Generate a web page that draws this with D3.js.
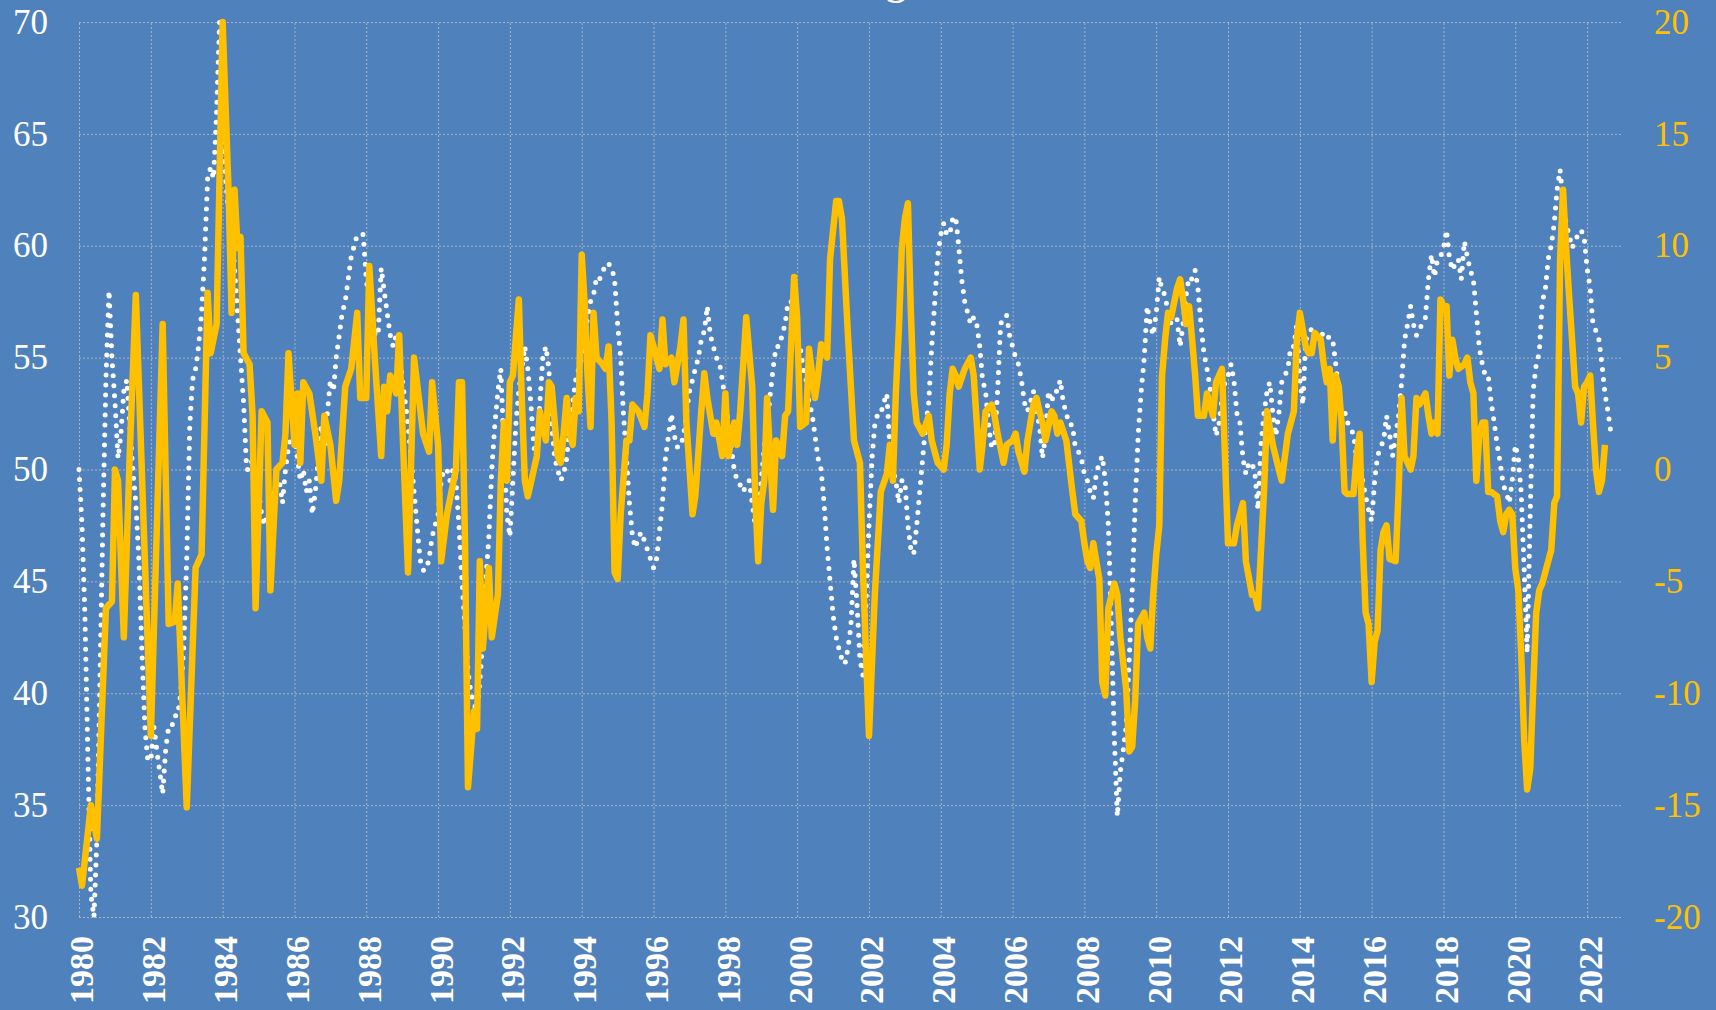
<!DOCTYPE html>
<html>
<head>
<meta charset="utf-8">
<script src="https://cdn.jsdelivr.net/npm/d3@7"></script>
<style>
  html, body { margin: 0; padding: 0; background: #4f81bd; overflow: hidden; }
  svg { display: block; }
</style>
</head>
<body>
<div id="chart"></div>
<script>
// axis ticks
let yearTicks = [1980, 1982, 1984, 1986, 1988, 1990, 1992, 1994, 1996, 1998, 2000,
  2002, 2004, 2006, 2008, 2010, 2012, 2014, 2016, 2018, 2020, 2022];
let leftTicks = [30, 35, 40, 45, 50, 55, 60, 65, 70];
let rightTicks = [-20, -15, -10, -5, 0, 5, 10, 15, 20];

// white dotted series (left axis), one value per month from Jan 1980
let pmiStart = "1980-01";
let pmiValues = [
  50.0, 47.5, 43.5, 37.0, 31.0, 30.0, 33.5, 40.5, 48.0, 54.0, 58.0, 55.0,
  53.0, 50.5, 51.5, 53.5, 54.0, 52.0, 50.0, 48.5, 46.0, 42.0, 38.5, 37.0,
  37.0, 38.5, 37.5, 36.5, 35.5, 37.5, 38.5, 38.5, 39.0, 39.0, 40.0, 42.0,
  46.0, 52.0, 54.0, 54.5, 55.5, 57.0, 59.5, 63.0, 63.5, 63.0, 66.0, 70.0,
  65.0, 63.0, 61.5, 61.0, 59.0, 57.0, 55.0, 53.0, 50.0, 50.0, 50.5, 49.0,
  49.0, 48.0, 47.5, 48.0, 47.5, 48.0, 49.5, 49.5, 48.5, 50.0, 51.0, 51.5,
  51.5, 50.5, 49.5, 50.0, 49.0, 49.5, 48.0, 49.0, 50.5, 52.0, 51.0, 52.5,
  54.0, 53.5, 55.0, 56.0, 57.0, 57.5, 58.5, 59.5, 60.0, 60.5, 60.5, 60.5,
  58.5, 57.5, 57.0, 56.0, 56.0, 59.0, 58.0, 57.0, 56.0, 55.5, 56.0, 55.5,
  54.0, 53.0, 52.0, 50.5, 49.0, 47.5, 46.0, 45.5, 45.5, 46.0, 47.0, 47.5,
  48.0, 49.5, 50.0, 50.0, 49.5, 50.0, 49.5, 47.5, 45.0, 43.0, 41.0, 40.0,
  39.5, 39.2, 40.5, 42.5, 45.0, 47.0, 50.0, 52.0, 53.5, 54.5, 51.0, 48.0,
  47.0, 49.5, 52.0, 53.5, 54.5, 55.5, 54.5, 53.0, 51.0, 50.5, 53.0, 55.0,
  55.5, 54.5, 52.0, 50.5, 50.0, 49.5, 49.8, 50.5, 52.0, 53.0, 54.0, 54.5,
  55.0, 56.0, 56.8, 57.5, 57.8, 58.6, 58.5, 58.8, 59.2, 59.2, 59.0, 58.5,
  56.5, 55.0, 52.5, 50.5, 48.5, 47.0, 46.5, 47.0, 47.2, 46.8, 46.4, 46.0,
  45.6, 46.0, 47.2, 48.5, 50.5, 51.5, 52.5, 51.5, 51.0, 51.0, 51.5, 52.5,
  53.5, 54.0, 54.5, 55.0, 55.8, 56.2, 57.3, 56.0, 55.5, 55.0, 54.8, 54.0,
  53.0, 52.0, 51.0, 50.0, 49.5, 49.3, 49.0, 49.3, 49.5, 48.5, 47.5, 47.5,
  49.5, 51.0, 52.0, 53.3, 54.5, 55.5, 55.5, 56.0, 56.5, 57.5, 57.5, 57.0,
  56.0, 55.5, 54.5, 54.0, 53.0, 52.5, 51.5, 50.5, 50.0, 48.5, 46.5, 45.0,
  43.5, 42.5, 42.0, 41.5, 41.3, 42.0, 43.0, 46.0, 44.0, 41.5, 40.8, 44.0,
  47.5, 50.5, 52.0, 52.5, 52.5, 53.0, 53.4, 51.0, 50.0, 49.5, 48.5, 49.5,
  49.5, 47.5, 46.5, 46.2, 47.5, 49.0, 50.5, 52.0, 53.0, 55.5, 57.5, 59.5,
  60.5, 61.0, 60.5, 60.5, 61.2, 61.3, 60.0, 58.5, 57.5, 57.0, 56.5, 56.8,
  56.5, 55.5, 54.0, 53.5, 52.0, 51.0, 51.0, 53.5, 56.5, 56.8, 56.9, 56.0,
  55.5, 55.0, 54.7, 54.0, 53.0, 52.6, 53.0, 53.5, 52.5, 52.0, 50.5, 51.5,
  53.5, 53.0, 53.5, 53.5, 54.0, 53.0, 52.5, 52.0, 52.0, 51.0, 50.8, 50.5,
  49.8, 49.5, 49.0, 48.7, 49.8, 50.3, 50.6, 49.5, 47.5, 43.0, 38.0, 34.5,
  36.5, 37.5, 38.5, 41.5, 44.5, 48.5, 51.5, 53.5, 55.0, 57.3, 56.5, 56.0,
  57.0, 58.6, 58.0, 57.8, 57.0, 56.5, 56.5, 56.7, 55.5, 56.5, 57.8, 58.6,
  58.5, 58.9, 58.1, 56.5, 55.2, 54.5, 53.7, 52.6, 51.5, 52.0, 53.2, 53.9,
  54.2, 54.7, 54.0, 52.5, 52.1, 50.5, 49.8, 50.3, 50.3, 49.8, 48.2, 51.1,
  52.5, 53.5, 53.9, 52.5, 51.5, 52.5, 53.9, 54.2, 54.5, 55.5, 55.5, 56.5,
  54.0, 52.9, 55.8, 56.0, 56.3, 56.0, 56.2, 56.1, 56.0, 56.1, 55.8, 55.8,
  54.7, 53.4, 52.4, 52.6, 52.1, 51.8, 51.6, 50.5, 50.3, 49.5, 48.8, 48.2,
  47.7, 49.5, 50.6, 51.0, 51.3, 52.4, 51.6, 50.6, 51.5, 52.4, 53.9, 55.8,
  56.5, 57.3, 56.5, 56.0, 56.3, 56.5, 56.8, 58.5, 59.6, 58.6, 59.4, 59.5,
  59.9, 60.7, 59.5, 58.9, 59.2, 59.4, 58.5, 60.2, 59.5, 58.9, 58.5, 57.0,
  55.4, 54.7, 54.2, 54.2, 53.0, 52.1, 51.1, 50.3, 49.3, 49.0, 48.5, 49.5,
  51.1, 50.5, 49.0, 45.5, 41.8, 48.0, 53.5, 54.7, 55.2, 57.5, 58.0, 59.4,
  60.0, 61.0, 62.5, 63.4, 62.0, 61.0, 60.5, 59.9, 60.2, 60.5, 60.7, 60.4,
  59.0, 58.1, 56.5, 56.2, 55.8, 54.7, 53.4, 52.6, 51.6
];

// orange series (right axis), read at its turning points
let growthMonths = [
  "1980-01", "1980-02", "1980-05", "1980-06", "1980-07", "1980-10", "1980-12",
  "1981-01", "1981-02", "1981-04", "1981-06", "1981-08",
  "1982-01", "1982-05", "1982-07", "1982-09", "1982-10",
  "1983-01", "1983-04", "1983-06", "1983-08", "1983-09", "1983-11",
  "1984-01", "1984-03", "1984-04", "1984-05", "1984-06", "1984-07", "1984-08", "1984-10", "1984-11", "1984-12",
  "1985-02", "1985-04", "1985-05", "1985-07", "1985-09", "1985-10", "1985-11",
  "1986-01", "1986-02", "1986-03", "1986-04", "1986-06", "1986-08", "1986-10", "1986-11",
  "1987-01", "1987-03", "1987-04", "1987-06", "1987-08", "1987-10", "1987-11",
  "1988-01", "1988-02", "1988-04", "1988-06", "1988-07", "1988-08", "1988-09", "1988-11", "1988-12",
  "1989-01", "1989-03", "1989-05", "1989-08", "1989-10", "1989-11",
  "1990-01", "1990-02", "1990-04", "1990-07", "1990-08", "1990-09", "1990-10", "1990-11",
  "1991-01", "1991-02", "1991-03", "1991-04", "1991-06", "1991-07", "1991-09", "1991-10", "1991-11", "1991-12",
  "1992-01", "1992-02", "1992-04", "1992-05", "1992-06", "1992-07", "1992-09", "1992-10", "1992-11",
  "1993-01", "1993-02", "1993-03", "1993-05", "1993-06", "1993-07", "1993-08", "1993-09", "1993-10", "1993-11", "1993-12",
  "1994-01", "1994-02", "1994-03", "1994-04", "1994-05", "1994-06", "1994-08", "1994-09", "1994-10", "1994-11", "1994-12",
  "1995-01", "1995-02", "1995-04", "1995-05", "1995-06", "1995-08", "1995-10", "1995-11", "1995-12",
  "1996-01", "1996-03", "1996-04", "1996-05", "1996-07", "1996-08", "1996-10", "1996-11", "1996-12",
  "1997-02", "1997-03", "1997-05", "1997-06", "1997-07", "1997-09", "1997-10", "1997-12",
  "1998-01", "1998-02", "1998-04", "1998-05", "1998-06", "1998-08", "1998-10", "1998-11", "1998-12",
  "1999-01", "1999-02", "1999-03", "1999-04", "1999-05", "1999-06", "1999-08", "1999-09", "1999-10", "1999-12",
  "2000-01", "2000-02", "2000-04", "2000-05", "2000-07", "2000-08", "2000-09", "2000-11", "2000-12",
  "2001-02", "2001-03", "2001-04", "2001-06", "2001-07", "2001-08", "2001-10", "2001-11",
  "2002-01", "2002-03", "2002-05", "2002-07", "2002-08", "2002-09", "2002-10", "2002-11", "2002-12",
  "2003-01", "2003-02", "2003-03", "2003-04", "2003-05", "2003-07", "2003-09", "2003-10", "2003-12",
  "2004-02", "2004-03", "2004-04", "2004-05", "2004-06", "2004-07", "2004-09", "2004-11", "2004-12",
  "2005-01", "2005-02", "2005-03", "2005-04", "2005-06", "2005-07", "2005-08", "2005-10", "2005-11",
  "2006-01", "2006-02", "2006-03", "2006-05", "2006-06", "2006-08", "2006-09", "2006-10", "2006-11", "2006-12",
  "2007-02", "2007-03", "2007-04", "2007-05", "2007-07", "2007-09", "2007-10", "2007-12",
  "2008-01", "2008-02", "2008-03", "2008-04", "2008-06", "2008-07", "2008-08", "2008-09", "2008-11", "2008-12",
  "2009-01", "2009-03", "2009-04", "2009-05", "2009-06", "2009-07", "2009-09", "2009-10", "2009-11", "2009-12",
  "2010-01", "2010-02", "2010-03", "2010-04", "2010-05", "2010-06", "2010-08", "2010-09", "2010-10", "2010-11", "2010-12",
  "2011-01", "2011-02", "2011-03", "2011-05", "2011-06", "2011-08", "2011-09", "2011-11", "2011-12",
  "2012-01", "2012-03", "2012-04", "2012-06", "2012-07", "2012-09", "2012-10", "2012-11",
  "2013-01", "2013-02", "2013-04", "2013-06", "2013-07", "2013-09", "2013-11", "2013-12",
  "2014-01", "2014-03", "2014-04", "2014-05", "2014-06", "2014-08", "2014-09", "2014-10", "2014-11", "2014-12",
  "2015-01", "2015-02", "2015-03", "2015-04", "2015-05", "2015-07", "2015-08", "2015-09", "2015-10", "2015-11", "2015-12",
  "2016-01", "2016-02", "2016-03", "2016-04", "2016-05", "2016-06", "2016-07", "2016-09", "2016-10", "2016-11", "2016-12",
  "2017-02", "2017-03", "2017-04", "2017-05", "2017-07", "2017-08", "2017-09", "2017-10", "2017-11", "2017-12",
  "2018-01", "2018-02", "2018-03", "2018-04", "2018-05", "2018-06", "2018-08", "2018-09", "2018-10", "2018-11", "2018-12",
  "2019-01", "2019-02", "2019-03", "2019-04", "2019-05", "2019-07", "2019-08", "2019-09", "2019-10", "2019-11", "2019-12",
  "2020-01", "2020-02", "2020-03", "2020-04", "2020-05", "2020-06", "2020-07", "2020-08", "2020-09", "2020-10", "2020-11", "2020-12",
  "2021-01", "2021-02", "2021-03", "2021-04", "2021-05", "2021-06", "2021-07", "2021-08", "2021-09", "2021-10", "2021-11", "2021-12",
  "2022-01", "2022-02", "2022-03", "2022-04", "2022-05", "2022-06", "2022-07"
];
let growthValues = [
  -17.8, -18.6, -15.0, -15.8, -16.5, -6.2, -5.9,
  0.0, -0.5, -7.5, 0.8, 7.8,
  -11.9, 6.5, -6.9, -6.8, -5.1,
  -15.1, -4.4, -3.8, 7.9, 5.2, 6.5,
  20.0, 12.5, 7.0, 12.5, 9.9, 10.4, 5.2, 4.7, 2.4, -6.2,
  2.6, 2.1, -5.4, 0.0, 0.3, 1.6, 5.2,
  1.1, 3.4, 0.3, 3.9, 3.4, 1.6, -0.5, 2.4,
  1.1, -1.4, -0.5, 3.7, 4.5, 7.0, 3.2,
  3.2, 9.1, 4.7, 0.6, 3.7, 2.6, 4.2, 3.4, 6.0,
  2.1, -4.6, 5.0, 1.6, 0.8, 3.9,
  1.1, -4.1, -2.0, 0.0, 3.9, 3.9, -3.1, -14.2,
  -10.8, -11.6, -4.1, -8.0, -4.4, -7.5, -5.6, -0.5, 2.1, -0.5,
  3.9, 4.2, 7.6, 3.2, -0.5, -1.2, 0.0, 0.6, 2.6,
  1.3, 3.9, 3.7, 0.6, 0.3, 1.6, 3.2, 1.6, 1.1, 3.2, 2.6,
  9.6, 7.3, 4.2, 1.9, 7.0, 5.0, 4.7, 4.5, 5.5, 2.1, -4.6,
  -4.9, -2.0, 1.3, 1.3, 2.9, 2.6, 1.9, 3.4, 6.0,
  5.5, 4.5, 6.7, 4.7, 5.0, 3.9, 5.5, 6.7, 2.1,
  -2.0, -1.2, 2.6, 4.3, 3.2, 1.6, 2.1, 0.6,
  3.4, 0.6, 2.1, 1.1, 2.6, 6.8, 3.7, -1.2, -4.1,
  -1.5, -0.5, 3.2, 0.6, -1.8, 1.3, 0.6, 2.4, 2.6, 8.6,
  6.8, 1.9, 2.1, 5.4, 3.2, 4.2, 5.6, 5.0, 9.4,
  12.0, 12.0, 11.2, 6.0, 3.7, 1.3, 0.3, -4.5,
  -11.9, -5.6, -1.0, -0.2, 1.1, -0.5, 3.4, 6.3, 9.9,
  11.2, 11.9, 7.3, 3.4, 2.1, 1.6, 2.4, 1.3, 0.3,
  0.0, 1.1, 3.4, 4.5, 4.2, 3.7, 4.5, 5.0, 4.2,
  2.1, 0.0, 1.1, 2.6, 2.9, 2.4, 1.6, 0.3, 1.1,
  1.3, 1.6, 0.8, -0.1, 1.3, 2.9, 3.2, 2.6, 2.1, 1.3,
  2.6, 2.4, 1.6, 2.1, 1.3, -1.0, -2.0, -2.3,
  -3.3, -4.1, -4.4, -3.3, -4.9, -9.5, -10.1, -6.2, -5.1, -5.6,
  -7.5, -9.8, -12.6, -12.4, -10.3, -6.9, -6.4, -7.5, -8.0, -5.6,
  -3.8, -2.5, 4.2, 5.8, 7.0, 6.8, 8.1, 8.5, 7.6, 6.5, 7.3,
  5.8, 4.2, 2.4, 2.4, 3.4, 2.4, 3.9, 4.5, 0.6,
  -3.3, -3.3, -2.5, -1.5, -4.1, -5.6, -5.6, -6.2,
  -1.0, 2.6, 1.1, 0.0, -0.5, 1.6, 2.6, 5.8,
  7.0, 5.5, 5.2, 5.2, 6.1, 5.8, 4.7, 3.9, 4.5, 1.3,
  4.2, 3.7, 2.1, -1.0, -1.1, -1.1, 0.6, 1.6, -3.1, -6.4, -6.9,
  -9.5, -7.7, -7.2, -3.6, -2.8, -2.5, -4.0, -4.1, -1.0, 3.2, 0.6,
  0.0, 0.6, 3.2, 2.9, 3.4, 2.4, 1.6, 2.1, 1.6, 7.6,
  7.3, 7.3, 4.2, 5.8, 5.0, 4.5, 4.7, 5.0, 3.9, 3.4, -0.5,
  1.6, 2.1, 2.1, -1.0, -1.0, -1.2, -2.3, -2.8, -2.0, -1.8, -2.0,
  -4.4, -5.4, -8.2, -12.1, -14.3, -13.4, -9.8, -6.4, -5.4, -5.1, -4.6, -4.1,
  -3.6, -1.5, -1.2, 9.4, 12.5, 9.9, 7.8, 5.8, 3.7, 3.4, 2.1, 3.7,
  3.9, 4.2, 2.1, 0.0, -1.0, -0.5, 1.1
];

let parseMonth = d3.timeParse("%Y-%m");

let width = 1716;
let height = 1010;
let margin = { top: 22, right: 93, bottom: 93, left: 79 };
let plotW = width - margin.left - margin.right;
let plotH = height - margin.top - margin.bottom;

let blue = "#4f81bd";
let gold = "#ffc000";
let gridColor = "#a9b4c2";
let serif = "'Liberation Serif', 'Times New Roman', serif";

let pmiData = pmiValues.map(function(v, i) {
  return { date: d3.timeMonth.offset(parseMonth(pmiStart), i), value: v };
});
let growthData = growthMonths.map(function(m, i) {
  return { date: parseMonth(m), value: growthValues[i] };
});

let svg = d3
  .select("#chart")
  .append("svg")
  .attr("width", width)
  .attr("height", height);

svg
  .append("rect")
  .attr("width", width)
  .attr("height", height)
  .attr("fill", blue);

// title sits above the top edge, only the descender shows
svg
  .append("text")
  .attr("x", 906)
  .attr("y", -6)
  .attr("text-anchor", "end")
  .style("font-family", serif)
  .style("font-weight", "bold")
  .style("font-size", "40px")
  .attr("fill", "#ffffff")
  .text("ISM Manufacturing");

let g = svg
  .append("g")
  .attr("transform", "translate(" + margin.left + "," + margin.top + ")");

let x = d3
  .scaleTime()
  .domain([parseMonth("1980-01"), parseMonth("2023-01")])
  .range([0, plotW]);
let yLeft = d3.scaleLinear().domain([30, 70]).range([plotH, 0]);
let yRight = d3.scaleLinear().domain([-20, 20]).range([plotH, 0]);

let yearDates = yearTicks.map(function(y) {
  return new Date(y, 0, 1);
});

// gridlines
let gridV = g
  .append("g")
  .attr("transform", "translate(0," + plotH + ")")
  .call(d3.axisBottom(x).tickValues(yearDates).tickSize(-plotH).tickFormat(""));
let gridH = g
  .append("g")
  .call(d3.axisLeft(yLeft).tickValues(leftTicks).tickSize(-plotW).tickFormat(""));
[gridV, gridH].forEach(function(grid) {
  grid.select(".domain").remove();
  grid
    .selectAll(".tick line")
    .attr("stroke", gridColor)
    .attr("stroke-width", 1)
    .attr("stroke-dasharray", "2,2");
});

// tick labels
let leftAxis = g
  .append("g")
  .call(d3.axisLeft(yLeft).tickValues(leftTicks).tickSize(0).tickPadding(31));
let rightAxis = g
  .append("g")
  .attr("transform", "translate(" + plotW + ",0)")
  .call(
    d3
      .axisRight(yRight)
      .tickValues(rightTicks)
      .tickSize(0)
      .tickPadding(31)
      .tickFormat(function(d) { return String(d); })
  );
let bottomAxis = g
  .append("g")
  .attr("transform", "translate(0," + plotH + ")")
  .call(d3.axisBottom(x).tickValues(yearDates).tickSize(0).tickFormat(d3.timeFormat("%Y")));

[leftAxis, rightAxis].forEach(function(axis) {
  axis.select(".domain").remove();
  axis.selectAll("text").style("font-family", serif).style("font-size", "35px");
});
bottomAxis.select(".domain").remove();
leftAxis.selectAll("text").attr("fill", "#ffffff");
rightAxis.selectAll("text").attr("fill", gold);
bottomAxis
  .selectAll("text")
  .attr("fill", "#ffffff")
  .style("font-family", serif)
  .style("font-size", "34px")
  .style("font-weight", "bold")
  .style("text-anchor", "end")
  .attr("transform", "rotate(-90)")
  .attr("x", -19)
  .attr("y", 2)
  .attr("dy", "0.35em");

// series
let pmiLine = d3
  .line()
  .x(function(d) { return x(d.date); })
  .y(function(d) { return yLeft(d.value); });
let growthLine = d3
  .line()
  .x(function(d) { return x(d.date); })
  .y(function(d) { return yRight(d.value); });

g.append("path")
  .datum(pmiData)
  .attr("d", pmiLine)
  .attr("fill", "none")
  .attr("stroke", "#ffffff")
  .attr("stroke-width", 5)
  .attr("stroke-linecap", "round")
  .attr("stroke-dasharray", "0,10");

g.append("path")
  .datum(growthData)
  .attr("d", growthLine)
  .attr("fill", "none")
  .attr("stroke", gold)
  .attr("stroke-width", 6.5)
  .attr("stroke-linejoin", "round");
</script>
</body>
</html>
